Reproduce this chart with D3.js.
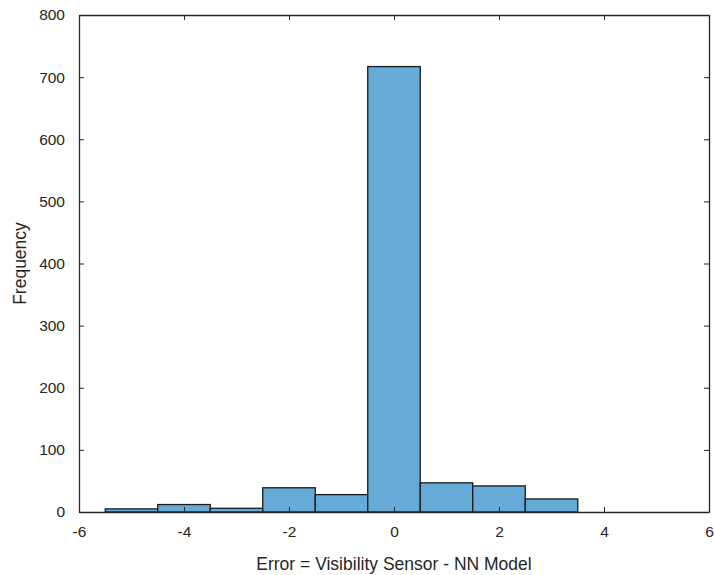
<!DOCTYPE html>
<html>
<head>
<meta charset="utf-8">
<script src="https://cdn.jsdelivr.net/npm/d3@7"></script>
<style>
  body { margin: 0; background: #fff; }
  text { font-family: "Liberation Sans", Arial, sans-serif; fill: #262626; }
</style>
</head>
<body>
<svg width="714" height="575"></svg>
<script>
// histogram bins (edges) and counts
const binStarts = [-5.5, -4.5, -3.5, -2.5, -1.5, -0.5, 0.5, 1.5, 2.5];
const binWidth = 1;
const counts = [5, 12, 6, 39, 28, 717, 47, 42, 21];
const xTicks = [-6, -4, -2, 0, 2, 4, 6];
const yTicks = [0, 100, 200, 300, 400, 500, 600, 700, 800];

const margin = { left: 79, right: 5, top: 15, bottom: 63 };
const width = 714, height = 575;

const svg = d3.select("svg");

const x = d3.scaleLinear().domain([-6, 6]).range([margin.left, width - margin.right]);
const y = d3.scaleLinear().domain([0, 800]).range([height - margin.bottom, margin.top]);

const bins = binStarts.map((s, i) => ({ x0: s, x1: s + binWidth, n: counts[i] }));

// bars
svg.append("g").selectAll("rect")
  .data(bins)
  .enter().append("rect")
  .attr("x", d => x(d.x0))
  .attr("y", d => y(d.n))
  .attr("width", d => x(d.x1) - x(d.x0))
  .attr("height", d => y(0) - y(d.n))
  .attr("fill", "#66aad7")
  .attr("stroke", "#1a1a1a")
  .attr("stroke-width", 1.3);

// axes (MATLAB style: ticks inward, box on)
const axisColor = "#262626";
const fmt = d => String(d); // plain hyphen, like the original
function styleAxis(g) {
  g.select(".domain").attr("stroke", axisColor).attr("stroke-width", 1.3);
  g.selectAll(".tick line").attr("stroke", axisColor).attr("stroke-width", 1);
  g.selectAll(".tick text").style("font-size", "15.5px").attr("fill", "#262626");
}

svg.append("g")
  .attr("transform", `translate(0,${y(0)})`)
  .call(d3.axisBottom(x).tickValues(xTicks).tickSizeInner(-5).tickSizeOuter(0).tickPadding(14).tickFormat(fmt))
  .call(styleAxis);

svg.append("g")
  .attr("transform", `translate(0,${y(800)})`)
  .call(d3.axisTop(x).tickValues(xTicks).tickSizeInner(-5).tickSizeOuter(0).tickFormat(""))
  .call(styleAxis);

svg.append("g")
  .attr("transform", `translate(${x(-6)},0)`)
  .call(d3.axisLeft(y).tickValues(yTicks).tickSizeInner(-5).tickSizeOuter(0).tickPadding(14).tickFormat(fmt))
  .call(styleAxis);

svg.append("g")
  .attr("transform", `translate(${x(6)},0)`)
  .call(d3.axisRight(y).tickValues(yTicks).tickSizeInner(-5).tickSizeOuter(0).tickFormat(""))
  .call(styleAxis);

// labels
svg.append("text")
  .attr("x", (x(-6) + x(6)) / 2)
  .attr("y", 570)
  .attr("text-anchor", "middle")
  .style("font-size", "17.5px")
  .text("Error = Visibility Sensor - NN Model");

svg.append("text")
  .attr("transform", `translate(26,${(y(0) + y(800)) / 2}) rotate(-90)`)
  .attr("text-anchor", "middle")
  .style("font-size", "17.5px")
  .text("Frequency");
</script>
</body>
</html>
